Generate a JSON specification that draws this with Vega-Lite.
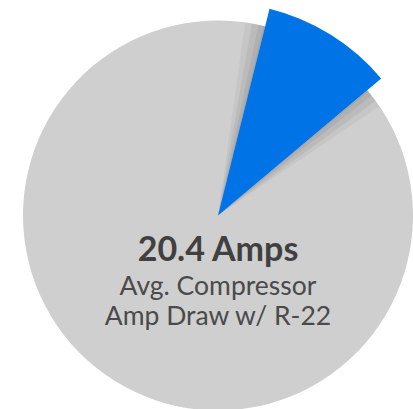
{
"$schema": "https://vega.github.io/schema/vega-lite/v6.json",
"width": 413,
"height": 409,
"autosize": {"type": "fit", "contains": "padding"},
"padding": {"left": 23, "top": 19, "right": 0, "bottom": 0},
"background": "white",
"view": {"stroke": null},
"data": {"values": [{"segment": "R-22 draw", "value": 10}, {"segment": "Remainder", "value": 90}]},
"resolve": {"scale": {"theta": "independent"}},
"layer": [
 {
  "transform": [{"stack": "value", "groupby": [], "sort": [{"field": "segment", "order": "ascending"}], "as": ["v0", "v1"]}, {"filter": "datum.segment === 'Remainder'"}],
  "mark": {"type": "arc", "radius": 195, "color": "#cfcfcf"},
  "encoding": {"theta": {"field": "v0", "type": "quantitative", "scale": {"domain": [0, 100], "range": [0.24435, 6.52754]}}, "theta2": {"field": "v1"}}
 },
 {
  "transform": [{"stack": "value", "groupby": [], "sort": [{"field": "segment", "order": "ascending"}], "as": ["v0", "v1"]}, {"filter": "datum.segment === 'R-22 draw'"}],
  "mark": {"type": "arc", "radius": 195, "color": "#000000", "opacity": 0.04},
  "encoding": {"theta": {"field": "v0", "type": "quantitative", "scale": {"domain": [0, 100], "range": [0.13963, 8.49675]}}, "theta2": {"field": "v1"}}
 },
 {
  "transform": [{"stack": "value", "groupby": [], "sort": [{"field": "segment", "order": "ascending"}], "as": ["v0", "v1"]}, {"filter": "datum.segment === 'R-22 draw'"}],
  "mark": {"type": "arc", "radius": 195, "color": "#000000", "opacity": 0.05},
  "encoding": {"theta": {"field": "v0", "type": "quantitative", "scale": {"domain": [0, 100], "range": [0.17453, 7.85398]}}, "theta2": {"field": "v1"}}
 },
 {
  "transform": [{"stack": "value", "groupby": [], "sort": [{"field": "segment", "order": "ascending"}], "as": ["v0", "v1"]}, {"filter": "datum.segment === 'R-22 draw'"}],
  "mark": {"type": "arc", "radius": 195, "color": "#000000", "opacity": 0.06},
  "encoding": {"theta": {"field": "v0", "type": "quantitative", "scale": {"domain": [0, 100], "range": [0.20944, 7.19076]}}, "theta2": {"field": "v1"}}
 },
 {
  "transform": [{"stack": "value", "groupby": [], "sort": [{"field": "segment", "order": "ascending"}], "as": ["v0", "v1"]}, {"filter": "datum.segment === 'R-22 draw'"}],
  "mark": {"type": "arc", "radius": 195, "color": "#000000", "opacity": 0.07},
  "encoding": {"theta": {"field": "v0", "type": "quantitative", "scale": {"domain": [0, 100], "range": [0.23562, 6.69207]}}, "theta2": {"field": "v1"}}
 },
 {
  "transform": [{"stack": "value", "groupby": [], "sort": [{"field": "segment", "order": "ascending"}], "as": ["v0", "v1"]}, {"filter": "datum.segment === 'R-22 draw'"}],
  "mark": {"type": "arc", "radius": 213, "color": "#0073e6"},
  "encoding": {"theta": {"field": "v0", "type": "quantitative", "scale": {"domain": [0, 100], "range": [0.24435, 6.52754]}}, "theta2": {"field": "v1"}}
 },
 {
  "data": {"values": [{"label": "20.4 Amps"}]},
  "mark": {"type": "text", "font": "Lato", "fontWeight": "bold", "fontSize": 34, "letterSpacing": 2, "color": "#404040", "dy": 45, "baseline": "alphabetic", "align": "center"},
  "encoding": {"text": {"field": "label"}}
 },
 {
  "data": {"values": [{"label": "Avg. Compressor\nAmp Draw w/ R-22"}]},
  "mark": {"type": "text", "font": "Lato", "fontSize": 26.5, "letterSpacing": 0.3, "color": "#4a4a4a", "dy": 79, "baseline": "alphabetic", "align": "center", "lineBreak": "\n", "lineHeight": 30},
  "encoding": {"text": {"field": "label"}}
 }
]
}
